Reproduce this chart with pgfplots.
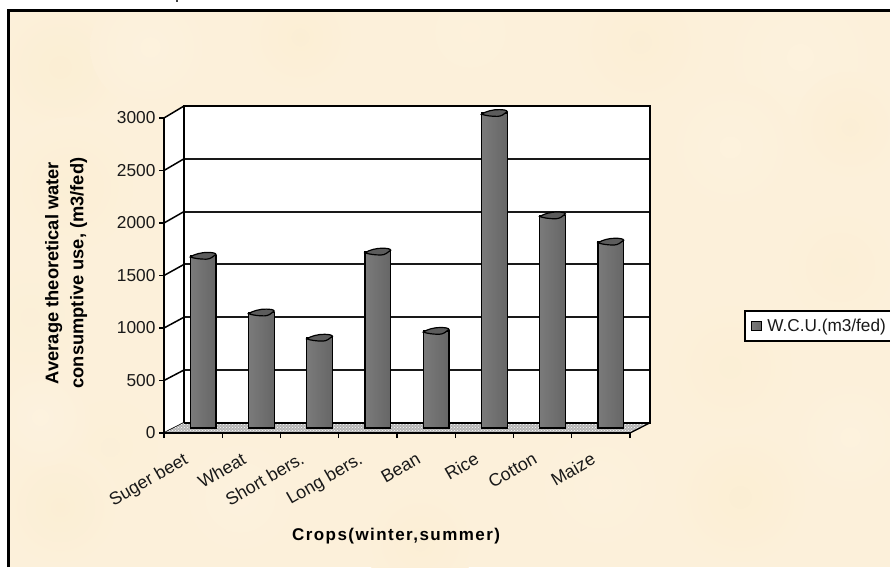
\documentclass[border=0pt]{standalone}
\usepackage{fontspec}
\setmainfont{Liberation Sans}
\usepackage{pgfplots}
\pgfplotsset{compat=1.18}
\usetikzlibrary{patterns}

% Upper end of a cylindrical column
\pgfdeclareplotmark{columncap}{%
  \pgfpathmoveto{\pgfqpoint{-12.8pt}{-1.2pt}}
  \pgfpathcurveto{\pgfqpoint{-9pt}{1.6pt}}{\pgfqpoint{-1pt}{3.6pt}}{\pgfqpoint{5pt}{3.4pt}}
  \pgfpathcurveto{\pgfqpoint{9pt}{3.3pt}}{\pgfqpoint{12.8pt}{2.8pt}}{\pgfqpoint{12.8pt}{1.4pt}}
  \pgfpathcurveto{\pgfqpoint{10pt}{-1pt}}{\pgfqpoint{7pt}{-3.4pt}}{\pgfqpoint{3pt}{-3.4pt}}
  \pgfpathcurveto{\pgfqpoint{-3pt}{-3.4pt}}{\pgfqpoint{-9pt}{-2.6pt}}{\pgfqpoint{-12.8pt}{-1.2pt}}
  \pgfpathclose
  \pgfusepathqfillstroke
}

\definecolor{paper}{HTML}{FCF0DA}
\definecolor{capfill}{HTML}{5C5C5C}
\definecolor{floorfill}{HTML}{B4B4B4}

\pgfplotstableread{
pos  wcu
0.5  1640
1.5  1100
2.5  860
3.5  1680
4.5  925
5.5  3000
6.5  2025
7.5  1775
}\waterdata

\begin{document}
\begin{tikzpicture}[x=1pt,y=1pt]
  \path[use as bounding box] (0,0) rectangle (890,567);
  \clip (0,0) rectangle (890,567);

  % Parchment backdrop
  \fill[paper] (8,0) rectangle (890,557);
  \begin{scope}
    \clip (8,0) rectangle (890,557);
    \foreach \cx/\cy/\r/\tone in {
      60/500/70/FAEDCF, 150/520/60/FDF3E0, 300/530/55/FBEDD0, 470/535/60/FDF2DC,
      640/525/70/FBEDD2, 800/510/80/FDF3DF, 70/380/70/FBEED2, 30/250/60/FAEFD6,
      110/120/60/FBEFD6, 60/60/60/FAEDD0, 240/70/60/FDF2E0, 420/25/55/FBEDD2,
      600/80/70/FDF2DE, 740/70/70/FBEDCF, 850/130/60/FDF3E0, 730/200/70/FBEED3,
      840/300/60/FBEED4, 730/420/65/FDF3DF, 850/440/55/FBEDD2, 40/150/50/FDF3E2}
    {
      \definecolor{blob}{HTML}{\tone}
      \shade[inner color=blob!60!paper, outer color=paper] (\cx,\cy) circle (\r);
    }
  \end{scope}

  % Chart frame and the stray mark above it
  \draw[black, line width=2.4pt] (8.5,0) -- (8.5,556.5) -- (890,556.5);
  \fill[black!75] (176.2,565) rectangle (178,567);

  % Side wall, left of the plot
  \fill[white] (164,134) -- (184,144.2) -- (184,461) -- (164,449) -- cycle;

  % Back wall with its horizontal grid
  \begin{axis}[
    name=wall, at={(184pt,144.2pt)}, anchor=south west,
    scale only axis, width=466pt, height=316.8pt,
    xmin=0, xmax=8, ymin=0, ymax=3000,
    ytick={500,1000,...,2500}, xtick=\empty, yticklabels={},
    ymajorgrids, major grid style={black!90, line width=2.1pt},
    major tick length=0pt,
    axis background/.style={fill=white},
    axis line style={black, line width=1.5pt},
  ]
  \end{axis}

  % Receding lines of the side wall, one per scale step
  \foreach \st in {0,...,6}
    \draw[black, line width=1.5pt] (164,134+\st*52.5) -- (184,144.2+\st*52.8);
  \draw[black, line width=2.4pt] (184,144.2) -- (184,461);

  % Speckled floor
  \fill[floorfill] (164,134) -- (630,134) -- (650,144.2) -- (184,144.2) -- cycle;
  \fill[pattern=crosshatch dots, pattern color=white] (164,134) -- (630,134) -- (650,144.2) -- (184,144.2) -- cycle;
  \draw[black, line width=1.8pt] (184,144.2) -- (650,144.2);
  \draw[black, line width=1.3pt] (650,144.2) -- (630,134);

  % Front scale: numbers, ticks and crop names
  \begin{axis}[
    name=scale, at={(164pt,134pt)}, anchor=south west,
    scale only axis, width=466pt, height=315pt,
    xmin=0, xmax=8, ymin=0, ymax=3000,
    axis x line*=bottom, axis y line*=left,
    axis line style={-, black, line width=2.2pt},
    xtick={0,...,8}, xticklabels={},
    ytick={0,500,...,3000},
    tick align=outside, major tick length=5pt,
    tick style={black, line width=1.4pt},
    tick label style={font=\fontsize{17.3}{18}\selectfont, text=black!90},
    /pgf/number format/assume math mode=true,
    /pgf/number format/1000 sep={},
    extra x ticks={0.5,1.5,...,7.5},
    extra x tick labels={Suger beet,Wheat,Short bers.,Long bers.,Bean,Rice,Cotton,Maize},
    extra x tick style={
      major tick length=0pt,
      tick label style={rotate=30, anchor=north east, yshift=-7.4pt, xshift=-15pt,
        font=\fontsize{17.8}{18}\selectfont},
    },
    xlabel={Crops(winter,summer)},
    xlabel style={at={(axis description cs:0.498,-0.3263)}, anchor=center,
      font=\fontsize{17}{20}\selectfont\bfseries\addfontfeatures{LetterSpace=8.5}},
    ylabel={Average theoretical water\\consumptive use, (m3/fed)},
    ylabel style={at={(axis description cs:-0.21,0.508)}, anchor=center, rotate=0,
      align=center, font=\fontsize{18.3}{25}\selectfont\bfseries},
  ]
  \end{axis}

  % Water consumption columns, each one a plot of its own so that it has its own shading
  \begin{axis}[
    name=columns, at={(174pt,139pt)}, anchor=south west,
    scale only axis, width=466pt, height=315pt,
    xmin=0, xmax=8, ymin=0, ymax=3000,
    hide axis, clip=false,
    legend style={
      at={(axis description cs:1.2232,0.3238)}, anchor=west,
      draw=black, line width=1.6pt, fill=white,
      font=\fontsize{17.2}{18}\selectfont, inner xsep=3pt, inner ysep=6pt,
      legend cell align=left, text=black!90,
    },
  ]
    \pgfplotsinvokeforeach{0.5,1.5,2.5,3.5,4.5,5.5,6.5,7.5}{
      \addplot[ybar, bar width=25.6pt, draw=black, line width=1.3pt,
        restrict x to domain=#1:#1,
        left color=black!52, middle color=black!46, right color=black!60,
        legend image code/.code={
          \path[draw=none, fill=none] (0pt,0pt) -- (17.5pt,0pt);
          \draw[black, line width=1.3pt, fill=black!50] (4pt,-4.8pt) rectangle (14pt,4.8pt);
        }]
        table[x=pos, y=wcu] {\waterdata};
    }
    \addlegendentry{W.C.U.(m3/fed)}
    \addplot[only marks, mark=columncap, forget plot,
      mark options={draw=black, line width=1.2pt, fill=capfill}]
      table[x=pos, y=wcu] {\waterdata};
  \end{axis}
\end{tikzpicture}
\end{document}
